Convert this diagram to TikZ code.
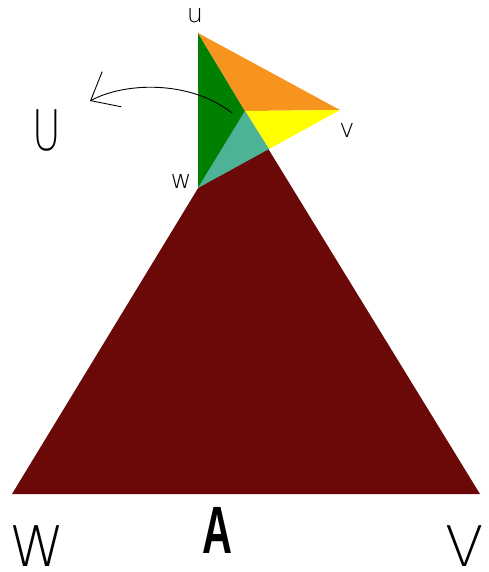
\documentclass[tikz,border=0pt]{standalone}
\usepackage{fontspec}
\usepackage{xcolor}
\usepackage{tikz}
\usetikzlibrary{arrows.meta,calc}
\newfontfamily\thinfont{DejaVu Sans ExtraLight}
\newfontfamily\heavyfont{Liberation Sans}
\definecolor{maroon}{HTML}{6B0808}
\definecolor{tangerine}{HTML}{F7941D}
\definecolor{leaf}{HTML}{008000}
\definecolor{lemon}{HTML}{FFFF00}
\definecolor{seafoam}{HTML}{4DB396}
\tikzset{
  facepatch/.style={fill=#1, draw=none},
  facepatch/.default=maroon,
  vertexlabel/.style={
    font=\thinfont\fontsize{25.6}{26}\selectfont,
    anchor=base, inner sep=0pt
  },
  bigletter/.style={
    font=\thinfont\fontsize{56}{57}\selectfont,
    anchor=base, inner sep=0pt, text depth=0pt
  },
  turnarrow/.style={
    -{Straight Barb[length=24pt,width=40pt]}, line width=0.9pt
  },
}

\begin{document}
\begin{tikzpicture}[x=1pt, y=-1pt]
\useasboundingbox (0,0) rectangle (488,572);

% ── corners of the small triangle ──
\coordinate (u) at (198,33);
\coordinate (v) at (340,110);
\coordinate (w) at (198,188);
\coordinate (c) at (245,111);
\coordinate (m) at ($(v)!0.5!(w)$);

% ── base of the big triangle ──
\coordinate (bw) at (12,494);
\coordinate (bv) at (480,494);

% Big triangle, apex in the middle of the small one
\fill[facepatch] (bw) -- (bv) -- (c) -- cycle;

% Four pieces of the small triangle
\fill[facepatch=leaf] (u) -- (c) -- (w) -- cycle;
\fill[facepatch=tangerine] (u) -- (v) -- (c) -- cycle;
\fill[facepatch=lemon] (c) -- (v) -- (m) -- cycle;
\fill[facepatch=seafoam] (c) -- (m) -- (w) -- cycle;

% Rotation arrow
\coordinate (arrowstart) at (232,113);
\coordinate (arrowtip) at (90,101);
\draw[turnarrow] (arrowstart) .. controls (190,80) and (125,82) .. (arrowtip);

% Labels on the small triangle
\node[vertexlabel] (lu) at (195,23) {u};
\node[vertexlabel] (lv) at (347,138) {v};
\node[vertexlabel] (lw) at (181,188) {w};

% Labels on the big triangle
\node[bigletter, xscale=0.7] (bu) at (47,150) {U};
\node[bigletter] (bigw) at (37,566) {W};
\node[bigletter] (bigv) at (465,566) {V};
\node[font=\heavyfont\bfseries\fontsize{67}{68}\selectfont, xscale=0.62,
  anchor=base, inner sep=0pt] (la) at (217,553) {A};

\end{tikzpicture}
\end{document}
